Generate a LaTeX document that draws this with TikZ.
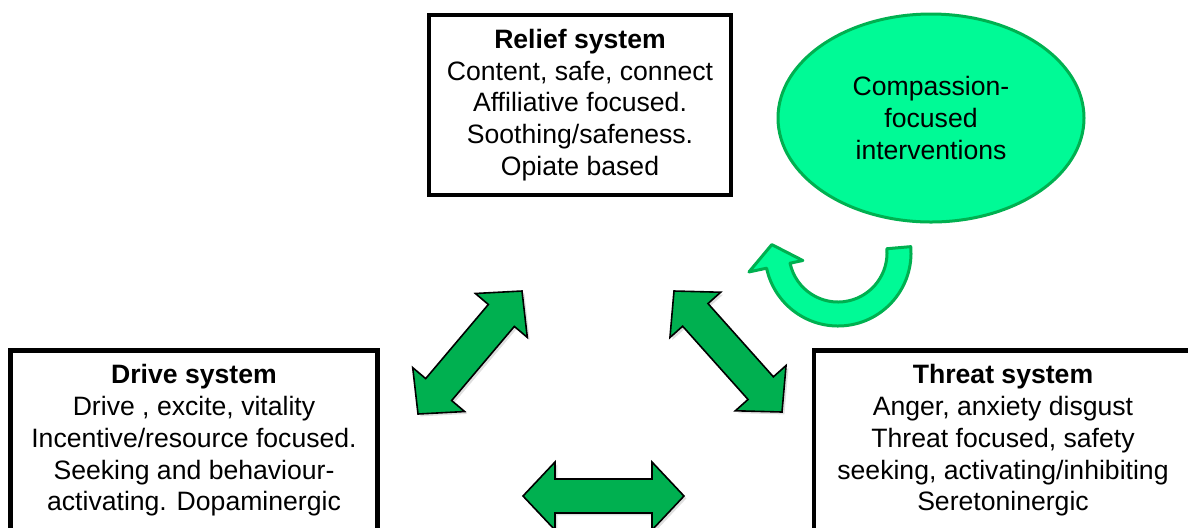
\documentclass[tikz,border=0pt]{standalone}
\usepackage{fontspec}
\setmainfont{Liberation Sans}
\usetikzlibrary{calc,shapes.geometric,shadows}
\definecolor{arrowgreen}{HTML}{00B050}
\definecolor{lightgreen}{HTML}{00FA96}
\definecolor{edgegreen}{HTML}{00B050}
\tikzset{
  txt/.style={font=\fontsize{13.3}{15.9}\selectfont, align=center},
  sysbox/.style={txt, draw=black, line width=2.2pt, fill=white, inner sep=0pt, minimum height=90pt},
  blockarrow/.style={fill=arrowgreen, draw=black, line width=0.8pt, line join=miter,
    drop shadow={opacity=0.25, shadow xshift=1.2pt, shadow yshift=-1.2pt}},
  curvearrow/.style={fill=lightgreen, draw=edgegreen, line width=1.5pt, line join=round},
}
% double block arrow from tip #1 to tip #2
\newcommand{\dblarrow}[2]{%
  \filldraw[blockarrow] (#1)
    -- ($(#1)!16pt!(#2)!17pt!90:(#2)$)
    -- ($(#1)!16pt!(#2)!8.5pt!90:(#2)$)
    -- ($(#2)!16pt!(#1)!8.5pt!-90:(#1)$)
    -- ($(#2)!16pt!(#1)!17pt!-90:(#1)$)
    -- (#2)
    -- ($(#2)!16pt!(#1)!17pt!90:(#1)$)
    -- ($(#2)!16pt!(#1)!8.5pt!90:(#1)$)
    -- ($(#1)!16pt!(#2)!8.5pt!-90:(#2)$)
    -- ($(#1)!16pt!(#2)!17pt!-90:(#2)$)
    -- cycle;}
\begin{document}
\begin{tikzpicture}[x=0.5pt,y=-0.5pt]
\useasboundingbox (0,0) rectangle (1188,527);
\clip (0,0) rectangle (1188,527);

% system boxes
\node[sysbox, minimum width=151pt] (relief) at (580,105)
  {\textbf{Relief system}\\Content, safe, connect\\Affiliative focused.\\Soothing/safeness.\\Opiate based};
\node[sysbox, minimum width=183.5pt] (drive) at (194,440.5)
  {\textbf{Drive system}\\Drive , excite, vitality\\Incentive/resource focused.\\Seeking and behaviour-\\activating. Dopaminergic};
\node[sysbox, minimum width=189pt] (threat) at (1003,440.5)
  {\textbf{Threat system}\\Anger, anxiety disgust\\Threat focused, safety\\seeking, activating/inhibiting\\Seretoninergic};

% compassion ellipse
\node[ellipse, txt, draw=edgegreen, line width=1.5pt, fill=lightgreen, inner sep=0pt,
      minimum width=153pt, minimum height=104pt] (cfi) at (931,118)
  {Compassion-\\focused\\interventions};

% double block arrows
\coordinate (dl1) at (418,414);
\coordinate (dl2) at (522,291);
\coordinate (dr1) at (674,291);
\coordinate (dr2) at (782,412);
\coordinate (db1) at (523,496);
\coordinate (db2) at (684,496);
\dblarrow{dl1}{dl2}
\dblarrow{dr1}{dr2}
\dblarrow{db1}{db2}

% curved arrow
\coordinate (uc) at (838,253);
\filldraw[curvearrow] ($(uc)+(-5:49)$) -- ($(uc)+(-5:73)$)
  arc[start angle=-5, end angle=168, radius=73]
  -- ($(uc)+(168:91)$)
  -- ($(uc)+(168:63)+(258:22)$)
  -- ($(uc)+(168:36)$)
  -- ($(uc)+(168:49)$)
  arc[start angle=168, end angle=-5, radius=49]
  -- cycle;
\end{tikzpicture}
\end{document}
